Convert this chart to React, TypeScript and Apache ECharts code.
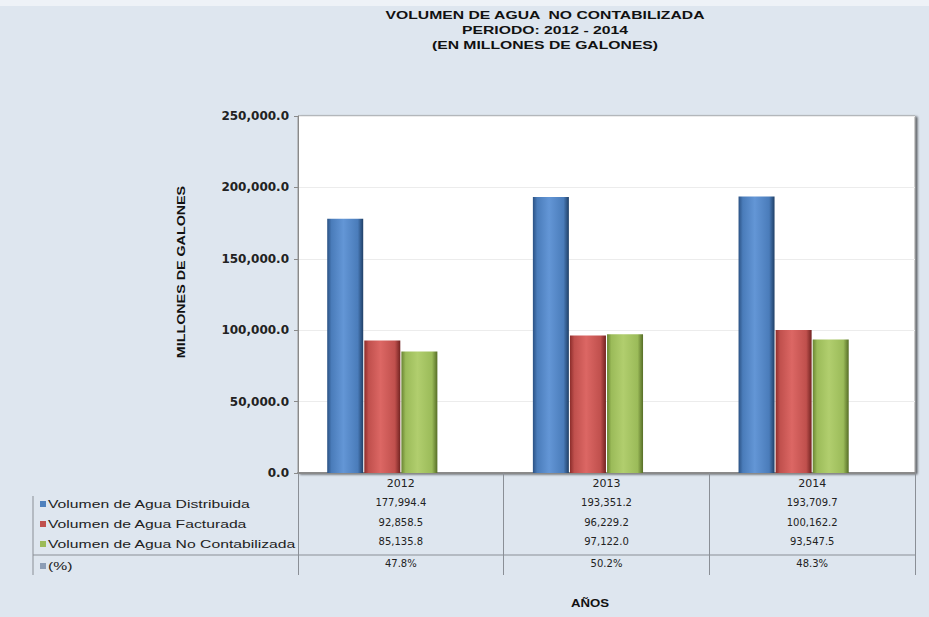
import React, { useEffect, useRef } from "react";
import * as echarts from "echarts";

const categories = ["2012", "2013", "2014"];
const distribuida = [177994.4, 193351.2, 193709.7];
const facturada = [92858.5, 96229.2, 100162.2];
const noContabilizada = [85135.8, 97122.0, 93547.5];
const porcentaje = [47.8, 50.2, 48.3];
const seriesNames = [
  "Volumen de Agua Distribuida",
  "Volumen de Agua Facturada",
  "Volumen de Agua No Contabilizada",
  "(%)",
];
const titleLines = [
  "VOLUMEN DE AGUA  NO CONTABILIZADA",
  "PERIODO: 2012 - 2014",
  "(EN MILLONES DE GALONES)",
];
const yAxisTitle = "MILLONES DE GALONES";
const xAxisTitle = "AÑOS";

const colors = ["#4f81bd", "#c0504d", "#9bbb59", "#8c9db5"];
const gradients = [
  ["#2b5284", "#6396d6", "#4a7cba", "#1f3f66"],
  ["#8c2d2b", "#dc6764", "#c0504d", "#722321"],
  ["#6a8432", "#b1ce6e", "#9bbb59", "#566d26"],
  ["#6f819b", "#a5b5cb", "#8c9db5", "#5d6d84"],
];

const fmtNum = (v: number) =>
  v.toLocaleString("en-US", { minimumFractionDigits: 1, maximumFractionDigits: 1 });
const fmtPct = (v: number) => v.toFixed(1) + "%";

const FONT = "Arial, 'Liberation Sans', sans-serif";
const WIDE = "'DejaVu Sans', sans-serif";

export default function App() {
  const ref = useRef<HTMLDivElement>(null);
  useEffect(() => {
    if (!ref.current) return;
    const chart = echarts.init(ref.current, null, { renderer: "svg" });
    const allSeries = [distribuida, facturada, noContabilizada, porcentaje];
    const rowFormatters = [
      (i: number) => fmtNum(distribuida[i]),
      (i: number) => fmtNum(facturada[i]),
      (i: number) => fmtNum(noContabilizada[i]),
      (i: number) => fmtPct(porcentaje[i]),
    ];
    const rowOffsets = [19, 39, 58, 80];

    const gridLeft = 298;
    const gridTop = 116;
    const gridRight = 14;
    const gridBottom = 144;
    const legendRowY = [504, 524, 544, 566];

    const extraAxes = rowFormatters.map((f, k) => ({
      type: "category",
      data: categories,
      gridIndex: 0,
      position: "bottom",
      offset: rowOffsets[k],
      axisLine: { show: false },
      axisTick: { show: false },
      splitLine: { show: false },
      axisLabel: {
        interval: 0,
        margin: 5,
        fontFamily: WIDE,
        fontSize: 10,
        color: "#222",
        formatter: (_v: string, i: number) => f(i),
      },
    }));

    const graphic: any[] = [
      { type: "rect", shape: { x: 0, y: 0, width: 929, height: 6 }, style: { fill: "#eef2f7" }, silent: true },
      ...titleLines.map((t, i) => ({
        type: "text",
        x: 545,
        y: 15 + i * 15,
        scaleX: 1.43,
        style: {
          text: t,
          font: `bold 11px ${FONT}`,
          fill: "#111",
          textAlign: "center",
          textVerticalAlign: "middle",
        },
      })),
      {
        type: "text",
        x: 181,
        y: 272,
        rotation: Math.PI / 2,
        scaleX: 1.3,
        style: {
          text: yAxisTitle,
          font: `bold 11px ${FONT}`,
          fill: "#111",
          textAlign: "center",
          textVerticalAlign: "middle",
        },
      },
      {
        type: "text",
        x: 590,
        y: 603,
        scaleX: 1.2,
        style: {
          text: xAxisTitle,
          font: `bold 11px ${FONT}`,
          fill: "#111",
          textAlign: "center",
          textVerticalAlign: "middle",
        },
      },
      {
        type: "line",
        shape: { x1: 33, y1: 555, x2: 915, y2: 555 },
        style: { stroke: "#8a8f96", lineWidth: 1 },
      },
      {
        type: "line",
        shape: { x1: 33, y1: 496, x2: 33, y2: 575 },
        style: { stroke: "#8a8f96", lineWidth: 1 },
      },
      ...seriesNames.map((n, i) => ({
        type: "group",
        children: [
          {
            type: "rect",
            shape: { x: 40, y: legendRowY[i] - 3, width: 6, height: 6 },
            style: { fill: colors[i] },
          },
          {
            type: "text",
            x: 48,
            y: legendRowY[i],
            scaleX: 1.43,
            style: {
              text: n,
              font: `11px ${FONT}`,
              fill: "#222",
              textVerticalAlign: "middle",
            },
          },
        ],
      })),
    ];

    chart.setOption({
      animation: false,
      backgroundColor: "#dee6ef",
      grid: {
        left: gridLeft,
        top: gridTop,
        right: gridRight,
        bottom: gridBottom,
        show: true,
        backgroundColor: "#ffffff",
        borderColor: "#9a9a9a",
        borderWidth: 1,
        shadowColor: "rgba(0,0,0,0.6)",
        shadowBlur: 2,
        shadowOffsetX: 2,
        shadowOffsetY: 1,
      },
      xAxis: [
        {
          type: "category",
          data: categories,
          gridIndex: 0,
          position: "bottom",
          axisLine: { show: true, lineStyle: { color: "#8a8a8a", width: 2 } },
          axisTick: { show: true, length: 102, lineStyle: { color: "#8a8f96", width: 1 } },
          axisLabel: {
            interval: 0,
            margin: 5,
            fontFamily: WIDE,
            fontSize: 11,
            color: "#222",
          },
        },
        ...extraAxes,
      ],
      yAxis: {
        type: "value",
        min: 0,
        max: 250000,
        interval: 50000,
        axisLine: { show: true, lineStyle: { color: "#8a8a8a", width: 1 } },
        axisTick: { show: true, length: 4, lineStyle: { color: "#8a8a8a" } },
        splitLine: { show: true, lineStyle: { color: "#ececec" } },
        axisLabel: {
          margin: 9,
          fontFamily: WIDE,
          fontSize: 12,
          fontWeight: "bold",
          color: "#222",
          formatter: (v: number) => fmtNum(v),
        },
      },
      series: allSeries.map((d, i) => ({
        type: "bar",
        name: seriesNames[i],
        data: d,
        xAxisIndex: 0,
        barWidth: 36,
        barGap: "3%",
        itemStyle: {
          color: new echarts.graphic.LinearGradient(0, 0, 1, 0, [
            { offset: 0, color: gradients[i][0] },
            { offset: 0.12, color: gradients[i][2] },
            { offset: 0.45, color: gradients[i][1] },
            { offset: 0.85, color: gradients[i][2] },
            { offset: 1, color: gradients[i][3] },
          ]),
        },
      })),
      graphic,
    });
    return () => chart.dispose();
  }, []);
  return (
    <div
      ref={ref}
      style={{ position: "absolute", left: 0, top: 0, width: 929, height: 617 }}
    />
  );
}
